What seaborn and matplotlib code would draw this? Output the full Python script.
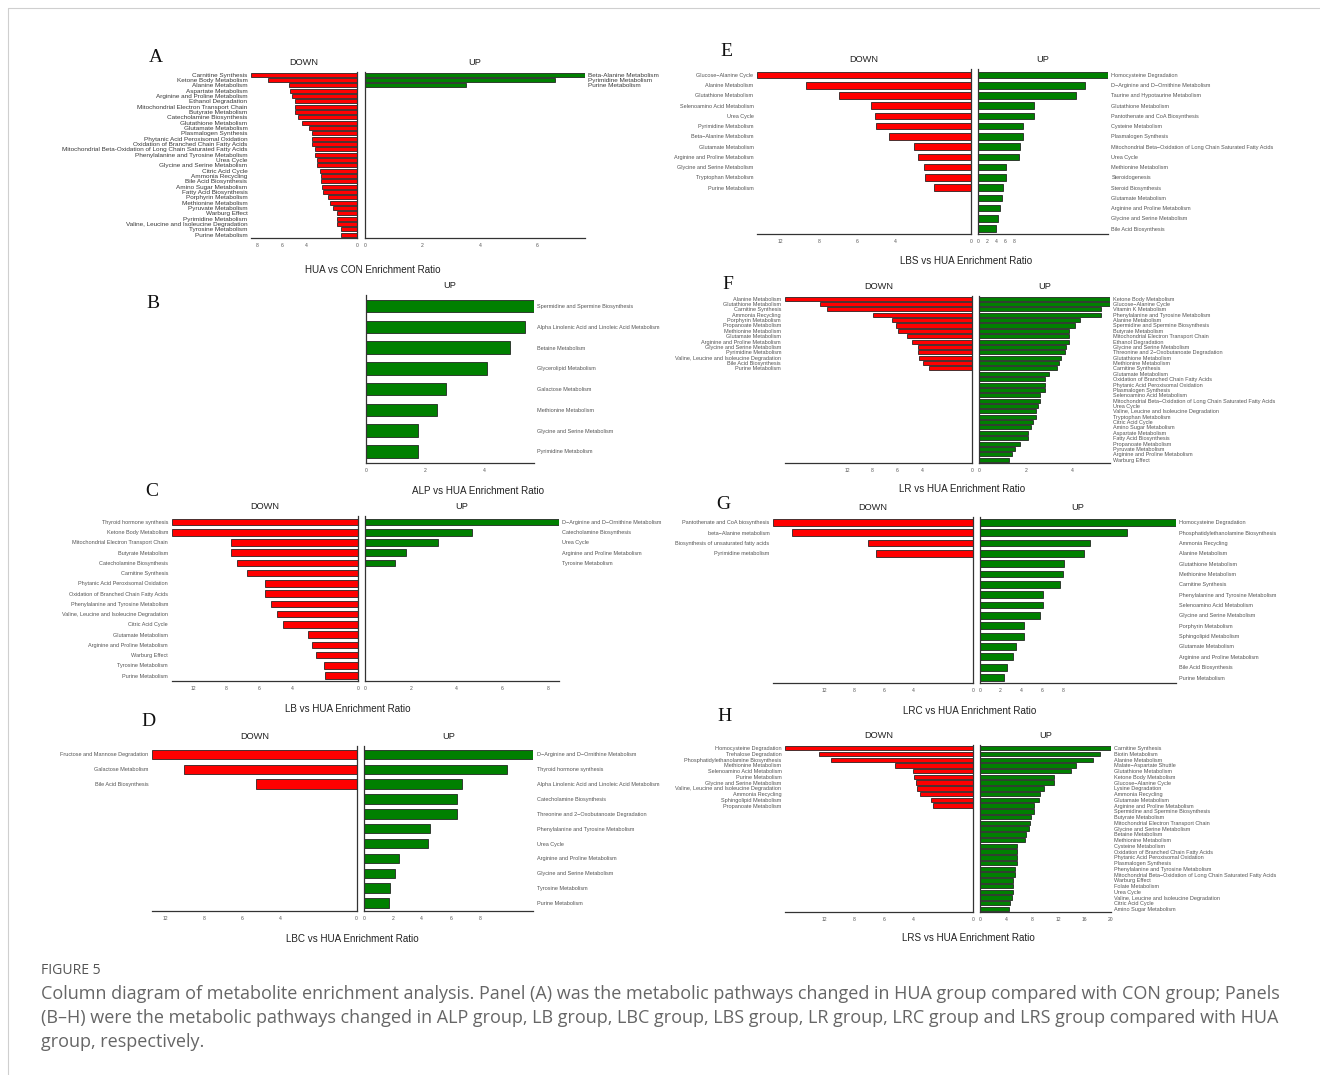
import numpy as np
import pandas as pd
import matplotlib
matplotlib.use("Agg")
import matplotlib.pyplot as plt
from matplotlib.lines import Line2D
from matplotlib.ticker import NullLocator
import seaborn as sns

sns.set_style("white")
plt.rcParams["font.family"] = ["Liberation Sans", "DejaVu Sans"]

W, H, DPI = 1320, 1075, 100
RED, GREEN, EDGE = "#ff0000", "#008000", "#1a1a1a"

# ---------------- A: HUA vs CON ----------------
a_down_paths = [
    "Carnitine Synthesis", "Ketone Body Metabolism", "Alanine Metabolism", "Aspartate Metabolism",
    "Arginine and Proline Metabolism", "Ethanol Degradation", "Mitochondrial Electron Transport Chain",
    "Butyrate Metabolism", "Catecholamine Biosynthesis", "Glutathione Metabolism", "Glutamate Metabolism",
    "Plasmalogen Synthesis", "Phytanic Acid Peroxisomal Oxidation", "Oxidation of Branched Chain Fatty Acids",
    "Mitochondrial Beta-Oxidation of Long Chain Saturated Fatty Acids", "Phenylalanine and Tyrosine Metabolism",
    "Urea Cycle", "Glycine and Serine Metabolism", "Citric Acid Cycle", "Ammonia Recycling",
    "Bile Acid Biosynthesis", "Amino Sugar Metabolism", "Fatty Acid Biosynthesis", "Porphyrin Metabolism",
    "Methionine Metabolism", "Pyruvate Metabolism", "Warburg Effect", "Pyrimidine Metabolism",
    "Valine, Leucine and Isoleucine Degradation", "Tyrosine Metabolism", "Purine Metabolism",
]
a_down_ratio = [8.9, 7.1, 5.4, 5.3, 5.2, 4.9, 4.9, 4.9, 4.7, 4.4, 3.8, 3.6, 3.6, 3.6, 3.3, 3.3,
                3.2, 3.15, 2.9, 2.85, 2.85, 2.8, 2.67, 2.3, 2.13, 1.92, 1.6, 1.55, 1.55, 1.28, 1.25]
a_up_paths = ["Beta-Alanine Metabolism", "Pyrimidine Metabolism", "Purine Metabolism"]
a_up_ratio = [7.65, 6.6, 3.52]

# ---------------- B: ALP vs HUA ----------------
b_up_paths = [
    "Spermidine and Spermine Biosynthesis", "Alpha Linolenic Acid and Linoleic Acid Metabolism",
    "Betaine Metabolism", "Glycerolipid Metabolism", "Galactose Metabolism", "Methionine Metabolism",
    "Glycine and Serine Metabolism", "Pyrimidine Metabolism",
]
b_up_ratio = [5.69, 5.39, 4.89, 4.10, 2.70, 2.40, 1.75, 1.75]

# ---------------- C: LB vs HUA ----------------
c_down_paths = [
    "Thyroid hormone synthesis", "Ketone Body Metabolism", "Mitochondrial Electron Transport Chain",
    "Butyrate Metabolism", "Catecholamine Biosynthesis", "Carnitine Synthesis",
    "Phytanic Acid Peroxisomal Oxidation", "Oxidation of Branched Chain Fatty Acids",
    "Phenylalanine and Tyrosine Metabolism", "Valine, Leucine and Isoleucine Degradation",
    "Citric Acid Cycle", "Glutamate Metabolism", "Arginine and Proline Metabolism", "Warburg Effect",
    "Tyrosine Metabolism", "Purine Metabolism",
]
c_down_ratio = [14.6, 14.6, 7.7, 7.7, 7.34, 6.7, 5.64, 5.64, 5.25, 4.89, 4.57, 3.0, 2.77, 2.55, 2.05, 2.0]
c_up_paths = ["D\u2212Arginine and D\u2212Ornithine Metabolism", "Catecholamine Biosynthesis", "Urea Cycle",
              "Arginine and Proline Metabolism", "Tyrosine Metabolism"]
c_up_ratio = [8.44, 4.66, 3.21, 1.79, 1.31]

# ---------------- D: LBC vs HUA ----------------
d_down_paths = ["Fructose and Mannose Degradation", "Galactose Metabolism", "Bile Acid Biosynthesis"]
d_down_ratio = [13.4, 10.1, 5.28]
d_up_paths = [
    "D\u2212Arginine and D\u2212Ornithine Metabolism", "Thyroid hormone synthesis",
    "Alpha Linolenic Acid and Linoleic Acid Metabolism", "Catecholamine Biosynthesis",
    "Threonine and 2\u2212Oxobutanoate Degradation", "Phenylalanine and Tyrosine Metabolism", "Urea Cycle",
    "Arginine and Proline Metabolism", "Glycine and Serine Metabolism", "Tyrosine Metabolism",
    "Purine Metabolism",
]
d_up_ratio = [11.7, 9.86, 6.78, 6.44, 6.44, 4.56, 4.42, 2.42, 2.17, 1.78, 1.72]

# ---------------- E: LBS vs HUA ----------------
e_down_paths = [
    "Glucose\u2212Alanine Cycle", "Alanine Metabolism", "Glutathione Metabolism",
    "Selenoamino Acid Metabolism", "Urea Cycle", "Pyrimidine Metabolism", "Beta\u2212Alanine Metabolism",
    "Glutamate Metabolism", "Arginine and Proline Metabolism", "Glycine and Serine Metabolism",
    "Tryptophan Metabolism", "Purine Metabolism",
]
e_down_ratio = [14.5, 9.3, 6.95, 5.26, 5.05, 4.97, 4.32, 2.98, 2.77, 2.46, 2.44, 1.96]
e_up_paths = [
    "Homocysteine Degradation", "D\u2212Arginine and D\u2212Ornithine Metabolism",
    "Taurine and Hypotaurine Metabolism", "Glutathione Metabolism", "Pantothenate and CoA Biosynthesis",
    "Cysteine Metabolism", "Plasmalogen Synthesis",
    "Mitochondrial Beta\u2212Oxidation of Long Chain Saturated Fatty Acids", "Urea Cycle",
    "Methionine Metabolism", "Steroidogenesis", "Steroid Biosynthesis", "Glutamate Metabolism",
    "Arginine and Proline Metabolism", "Glycine and Serine Metabolism", "Bile Acid Biosynthesis",
]
e_up_ratio = [28.5, 23.4, 21.5, 12.3, 12.3, 9.9, 9.9, 9.24, 9.0, 6.1, 6.1, 5.45, 5.3, 4.95, 4.44, 3.93]

# ---------------- F: LR vs HUA ----------------
f_down_paths = [
    "Alanine Metabolism", "Glutathione Metabolism", "Carnitine Synthesis", "Ammonia Recycling",
    "Porphyrin Metabolism", "Propanoate Metabolism", "Methionine Metabolism", "Glutamate Metabolism",
    "Arginine and Proline Metabolism", "Glycine and Serine Metabolism", "Pyrimidine Metabolism",
    "Valine, Leucine and Isoleucine Degradation", "Bile Acid Biosynthesis", "Purine Metabolism",
]
f_down_ratio = [22.0, 16.4, 15.3, 7.97, 6.43, 6.1, 5.95, 5.25, 4.83, 4.35, 4.35, 4.27, 3.95, 3.47]
f_up_paths = [
    "Ketone Body Metabolism", "Glucose\u2212Alanine Cycle", "Vitamin K Metabolism",
    "Phenylalanine and Tyrosine Metabolism", "Alanine Metabolism", "Spermidine and Spermine Biosynthesis",
    "Butyrate Metabolism", "Mitochondrial Electron Transport Chain", "Ethanol Degradation",
    "Glycine and Serine Metabolism", "Threonine and 2\u2212Oxobutanoate Degradation", "Glutathione Metabolism",
    "Methionine Metabolism", "Carnitine Synthesis", "Glutamate Metabolism",
    "Oxidation of Branched Chain Fatty Acids", "Phytanic Acid Peroxisomal Oxidation", "Plasmalogen Synthesis",
    "Selenoamino Acid Metabolism", "Mitochondrial Beta\u2212Oxidation of Long Chain Saturated Fatty Acids",
    "Urea Cycle", "Valine, Leucine and Isoleucine Degradation", "Tryptophan Metabolism", "Citric Acid Cycle",
    "Amino Sugar Metabolism", "Aspartate Metabolism", "Fatty Acid Biosynthesis", "Propanoate Metabolism",
    "Pyruvate Metabolism", "Arginine and Proline Metabolism", "Warburg Effect",
]
f_up_ratio = [5.6, 5.6, 5.22, 5.22, 4.31, 4.08, 3.84, 3.84, 3.84, 3.71, 3.67, 3.49, 3.41, 3.33, 2.99,
              2.82, 2.82, 2.82, 2.62, 2.62, 2.53, 2.45, 2.45, 2.30, 2.22, 2.09, 2.09, 1.75, 1.52, 1.39, 1.27]

# ---------------- G: LRC vs HUA ----------------
g_down_paths = ["Pantothenate and CoA biosynthesis", "beta\u2212Alanine metabolism",
                "Biosynthesis of unsaturated fatty acids", "Pyrimidine metabolism"]
g_down_ratio = [18.9, 16.3, 7.08, 6.51]
g_up_paths = [
    "Homocysteine Degradation", "Phosphatidylethanolamine Biosynthesis", "Ammonia Recycling",
    "Alanine Metabolism", "Glutathione Metabolism", "Methionine Metabolism", "Carnitine Synthesis",
    "Phenylalanine and Tyrosine Metabolism", "Selenoamino Acid Metabolism", "Glycine and Serine Metabolism",
    "Porphyrin Metabolism", "Sphingolipid Metabolism", "Glutamate Metabolism",
    "Arginine and Proline Metabolism", "Bile Acid Biosynthesis", "Purine Metabolism",
]
g_up_ratio = [18.9, 14.2, 10.6, 10.0, 8.16, 7.97, 7.73, 6.09, 6.09, 5.78, 4.26, 4.26, 3.48, 3.24, 2.66, 2.30]

# ---------------- H: LRS vs HUA ----------------
h_down_paths = [
    "Homocysteine Degradation", "Trehalose Degradation", "Phosphatidylethanolamine Biosynthesis",
    "Methionine Metabolism", "Selenoamino Acid Metabolism", "Purine Metabolism",
    "Glycine and Serine Metabolism", "Valine, Leucine and Isoleucine Degradation", "Ammonia Recycling",
    "Sphingolipid Metabolism", "Propanoate Metabolism",
]
h_down_ratio = [17.3, 12.7, 11.05, 5.26, 4.04, 3.93, 3.84, 3.78, 3.55, 2.81, 2.70]
h_up_paths = [
    "Carnitine Synthesis", "Biotin Metabolism", "Alanine Metabolism", "Malate\u2212Aspartate Shuttle",
    "Glutathione Metabolism", "Ketone Body Metabolism", "Glucose\u2212Alanine Cycle", "Lysine Degradation",
    "Ammonia Recycling", "Glutamate Metabolism", "Arginine and Proline Metabolism",
    "Spermidine and Spermine Biosynthesis", "Butyrate Metabolism", "Mitochondrial Electron Transport Chain",
    "Glycine and Serine Metabolism", "Betaine Metabolism", "Methionine Metabolism", "Cysteine Metabolism",
    "Oxidation of Branched Chain Fatty Acids", "Phytanic Acid Peroxisomal Oxidation", "Plasmalogen Synthesis",
    "Phenylalanine and Tyrosine Metabolism",
    "Mitochondrial Beta\u2212Oxidation of Long Chain Saturated Fatty Acids", "Warburg Effect",
    "Folate Metabolism", "Urea Cycle", "Valine, Leucine and Isoleucine Degradation", "Citric Acid Cycle",
    "Amino Sugar Metabolism",
]
h_up_ratio = [20.0, 18.3, 17.3, 14.66, 13.9, 11.3, 11.3, 9.77, 9.16, 9.0, 8.3, 8.19, 7.74, 7.68, 7.48,
              6.97, 6.82, 5.65, 5.65, 5.65, 5.65, 5.29, 5.29, 5.09, 5.09, 5.09, 4.89, 4.63, 4.48]

caption_head = "FIGURE 5"
caption_lines = [
    "Column diagram of metabolite enrichment analysis. Panel (A) was the metabolic pathways changed in HUA group compared with CON group; Panels",
    "(B\u2013H) were the metabolic pathways changed in ALP group, LB group, LBC group, LBS group, LR group, LRC group and LRS group compared with HUA",
    "group, respectively.",
]

# The DOWN axes use a compressed ratio scale: breaks 0, 4, 6, 8, 12 are spaced 2:1:1:1
DOWN_BREAKS = np.array([0.0, 4.0, 6.0, 8.0, 12.0])
DOWN_POS = np.array([0.0, 2.0, 3.0, 4.0, 5.0])


def down_fwd(v):
    v = np.asarray(v, dtype=float)
    out = np.interp(v, DOWN_BREAKS, DOWN_POS)
    out = np.where(v > 12, 5 + (v - 12) / 4, out)
    return np.where(v < 0, v / 2, out)


def down_inv(p):
    p = np.asarray(p, dtype=float)
    out = np.interp(p, DOWN_POS, DOWN_BREAKS)
    out = np.where(p > 5, 12 + (p - 5) * 4, out)
    return np.where(p < 0, p * 2, out)


fig = plt.figure(figsize=(W / DPI, H / DPI), dpi=DPI, facecolor="white")


def px_axes(x0, x1, y0, y1):
    return fig.add_axes([x0 / W, 1 - y1 / H, (x1 - x0) / W, (y1 - y0) / H])


def draw_half(ax, paths, ratio, side, rows, bar_w, label_fs, label_color, up_ticks=None):
    frame = pd.DataFrame({"pathway": paths, "ratio": ratio})
    sns.barplot(data=frame, x="ratio", y="pathway", orient="h", ax=ax,
                color=RED if side == "down" else GREEN, saturation=1, width=bar_w,
                edgecolor=EDGE, linewidth=0.55)
    ax.set_xlabel("")
    ax.set_ylabel("")
    ax.set_ylim(rows - 1 + 0.56, -0.55)
    vmax = max(ratio)
    if side == "down":
        ax.set_xscale("function", functions=(down_fwd, down_inv))
        ax.set_xlim(vmax, 0)
        ticks = [t for t in DOWN_BREAKS if t <= vmax]
        ax.spines["left"].set_visible(False)
        ax.tick_params(axis="y", length=0, pad=2.6, labelsize=label_fs, labelcolor=label_color)
    else:
        ax.set_xlim(0, vmax)
        ticks = up_ticks
        ax.spines["right"].set_visible(False)
        ax.yaxis.tick_right()
        ax.tick_params(axis="y", length=0, pad=2.3, labelsize=label_fs, labelcolor=label_color)
    ax.spines["top"].set_visible(False)
    for s in ax.spines.values():
        s.set_color("#333333")
        s.set_linewidth(0.9)
    ax.set_xticks(ticks, labels=[f"{t:g}" for t in ticks])
    ax.xaxis.set_minor_locator(NullLocator())
    ax.tick_params(axis="x", length=2, width=0.5, color="#555555", pad=1.5,
                   labelsize=3.6, labelcolor="#555555")
    ax.set_facecolor("none")
    top_px = (1 - ax.get_position().y1) * H
    xc = (ax.get_position().x0 + ax.get_position().x1) / 2 * W
    fig.text(xc / W, 1 - (top_px - 9.5) / H, "DOWN" if side == "down" else "UP",
             ha="center", va="center", fontsize=6.7, color="#222222")


LBL_FS, LBL_COLOR = 3.95, "#555555"

panels = [
    dict(letter="A", letter_xy=(156, 57), down=(a_down_paths, a_down_ratio), up=(a_up_paths, a_up_ratio),
         down_x=(251, 356.7), up_x=(364.7, 585), y=(71.7, 237.7), up_ticks=[0, 2, 4, 6],
         xlabel="HUA vs CON Enrichment Ratio", xlabel_xy=(372.5, 270), bar_w=0.75,
         label_fs=4.6, label_color="#3a3a3a"),
    dict(letter="B", letter_xy=(153, 303), down=None, up=(b_up_paths, b_up_ratio),
         down_x=None, up_x=(366, 534), y=(294.7, 463), up_ticks=[0, 2, 4],
         xlabel="ALP vs HUA Enrichment Ratio", xlabel_xy=(478, 490.5), bar_w=0.61,
         label_fs=LBL_FS, label_color=LBL_COLOR),
    dict(letter="C", letter_xy=(152, 492), down=(c_down_paths, c_down_ratio), up=(c_up_paths, c_up_ratio),
         down_x=(171.7, 357.8), up_x=(364.7, 558.5), y=(516.3, 681.3), up_ticks=[0, 2, 4, 6, 8],
         xlabel="LB vs HUA Enrichment Ratio", xlabel_xy=(348, 708.5), bar_w=0.65,
         label_fs=LBL_FS, label_color=LBL_COLOR),
    dict(letter="D", letter_xy=(148, 722), down=(d_down_paths, d_down_ratio), up=(d_up_paths, d_up_ratio),
         down_x=(152.1, 356.6), up_x=(363.8, 533.4), y=(746.3, 911.3), up_ticks=[0, 2, 4, 6, 8],
         xlabel="LBC vs HUA Enrichment Ratio", xlabel_xy=(352.6, 938.5), bar_w=0.63,
         label_fs=LBL_FS, label_color=LBL_COLOR),
    dict(letter="E", letter_xy=(726.3, 51.7), down=(e_down_paths, e_down_ratio), up=(e_up_paths, e_up_ratio),
         down_x=(757, 971), up_x=(977.7, 1108.3), y=(69.3, 234.3), up_ticks=[0, 2, 4, 6, 8],
         xlabel="LBS vs HUA Enrichment Ratio", xlabel_xy=(966, 261), bar_w=0.65,
         label_fs=LBL_FS, label_color=LBL_COLOR),
    dict(letter="F", letter_xy=(728, 284.5), down=(f_down_paths, f_down_ratio), up=(f_up_paths, f_up_ratio),
         down_x=(784.7, 972.3), up_x=(979, 1110.3), y=(295.7, 462.7), up_ticks=[0, 2, 4],
         xlabel="LR vs HUA Enrichment Ratio", xlabel_xy=(962, 489), bar_w=0.75,
         label_fs=LBL_FS, label_color=LBL_COLOR),
    dict(letter="G", letter_xy=(723.7, 504), down=(g_down_paths, g_down_ratio), up=(g_up_paths, g_up_ratio),
         down_x=(773.1, 972.8), up_x=(979.7, 1176.1), y=(516.7, 683.3), up_ticks=[0, 2, 4, 6, 8],
         xlabel="LRC vs HUA Enrichment Ratio", xlabel_xy=(969.6, 710.5), bar_w=0.65,
         label_fs=LBL_FS, label_color=LBL_COLOR),
    dict(letter="H", letter_xy=(725, 716.7), down=(h_down_paths, h_down_ratio), up=(h_up_paths, h_up_ratio),
         down_x=(785, 972.7), up_x=(980, 1111), y=(745, 912.3), up_ticks=[0, 4, 8, 12, 16, 20],
         xlabel="LRS vs HUA Enrichment Ratio", xlabel_xy=(968, 938), bar_w=0.75,
         label_fs=LBL_FS, label_color=LBL_COLOR),
]

for p in panels:
    rows = max(len(p["up"][0]), len(p["down"][0]) if p["down"] else 0)
    y0, y1 = p["y"]
    if p["down"]:
        ax_d = px_axes(p["down_x"][0], p["down_x"][1], y0, y1)
        draw_half(ax_d, p["down"][0], p["down"][1], "down", rows, p["bar_w"], p["label_fs"], p["label_color"])
    ax_u = px_axes(p["up_x"][0], p["up_x"][1], y0, y1)
    draw_half(ax_u, p["up"][0], p["up"][1], "up", rows, p["bar_w"], p["label_fs"], p["label_color"],
              up_ticks=p["up_ticks"])
    lx, ly = p["letter_xy"]
    fig.text(lx / W, 1 - ly / H, p["letter"], ha="center", va="center", fontsize=14,
             family=["Liberation Serif", "DejaVu Serif"], color="#111111")
    xx, xy = p["xlabel_xy"]
    fig.text(xx / W, 1 - xy / H, p["xlabel"], ha="center", va="center", fontsize=7.1, color="#222222")

# frame rule along the top and left margin
fig.add_artist(Line2D([8 / W, 1.0], [1 - 8 / H, 1 - 8 / H], color="#cfcfcf", linewidth=0.8))
fig.add_artist(Line2D([8 / W, 8 / W], [0.0, 1 - 8 / H], color="#cfcfcf", linewidth=0.8))

fig.text(41 / W, 1 - 970 / H, caption_head, ha="left", va="center", fontsize=10.1,
         family=["Open Sans", "DejaVu Sans"], color="#555555")
for i, line in enumerate(caption_lines):
    fig.text(41 / W, 1 - (994 + 24 * i) / H, line, ha="left", va="center", fontsize=12.95,
             family=["Open Sans", "DejaVu Sans"], color="#666666")

fig.savefig("out.png", dpi=DPI, facecolor="white")
